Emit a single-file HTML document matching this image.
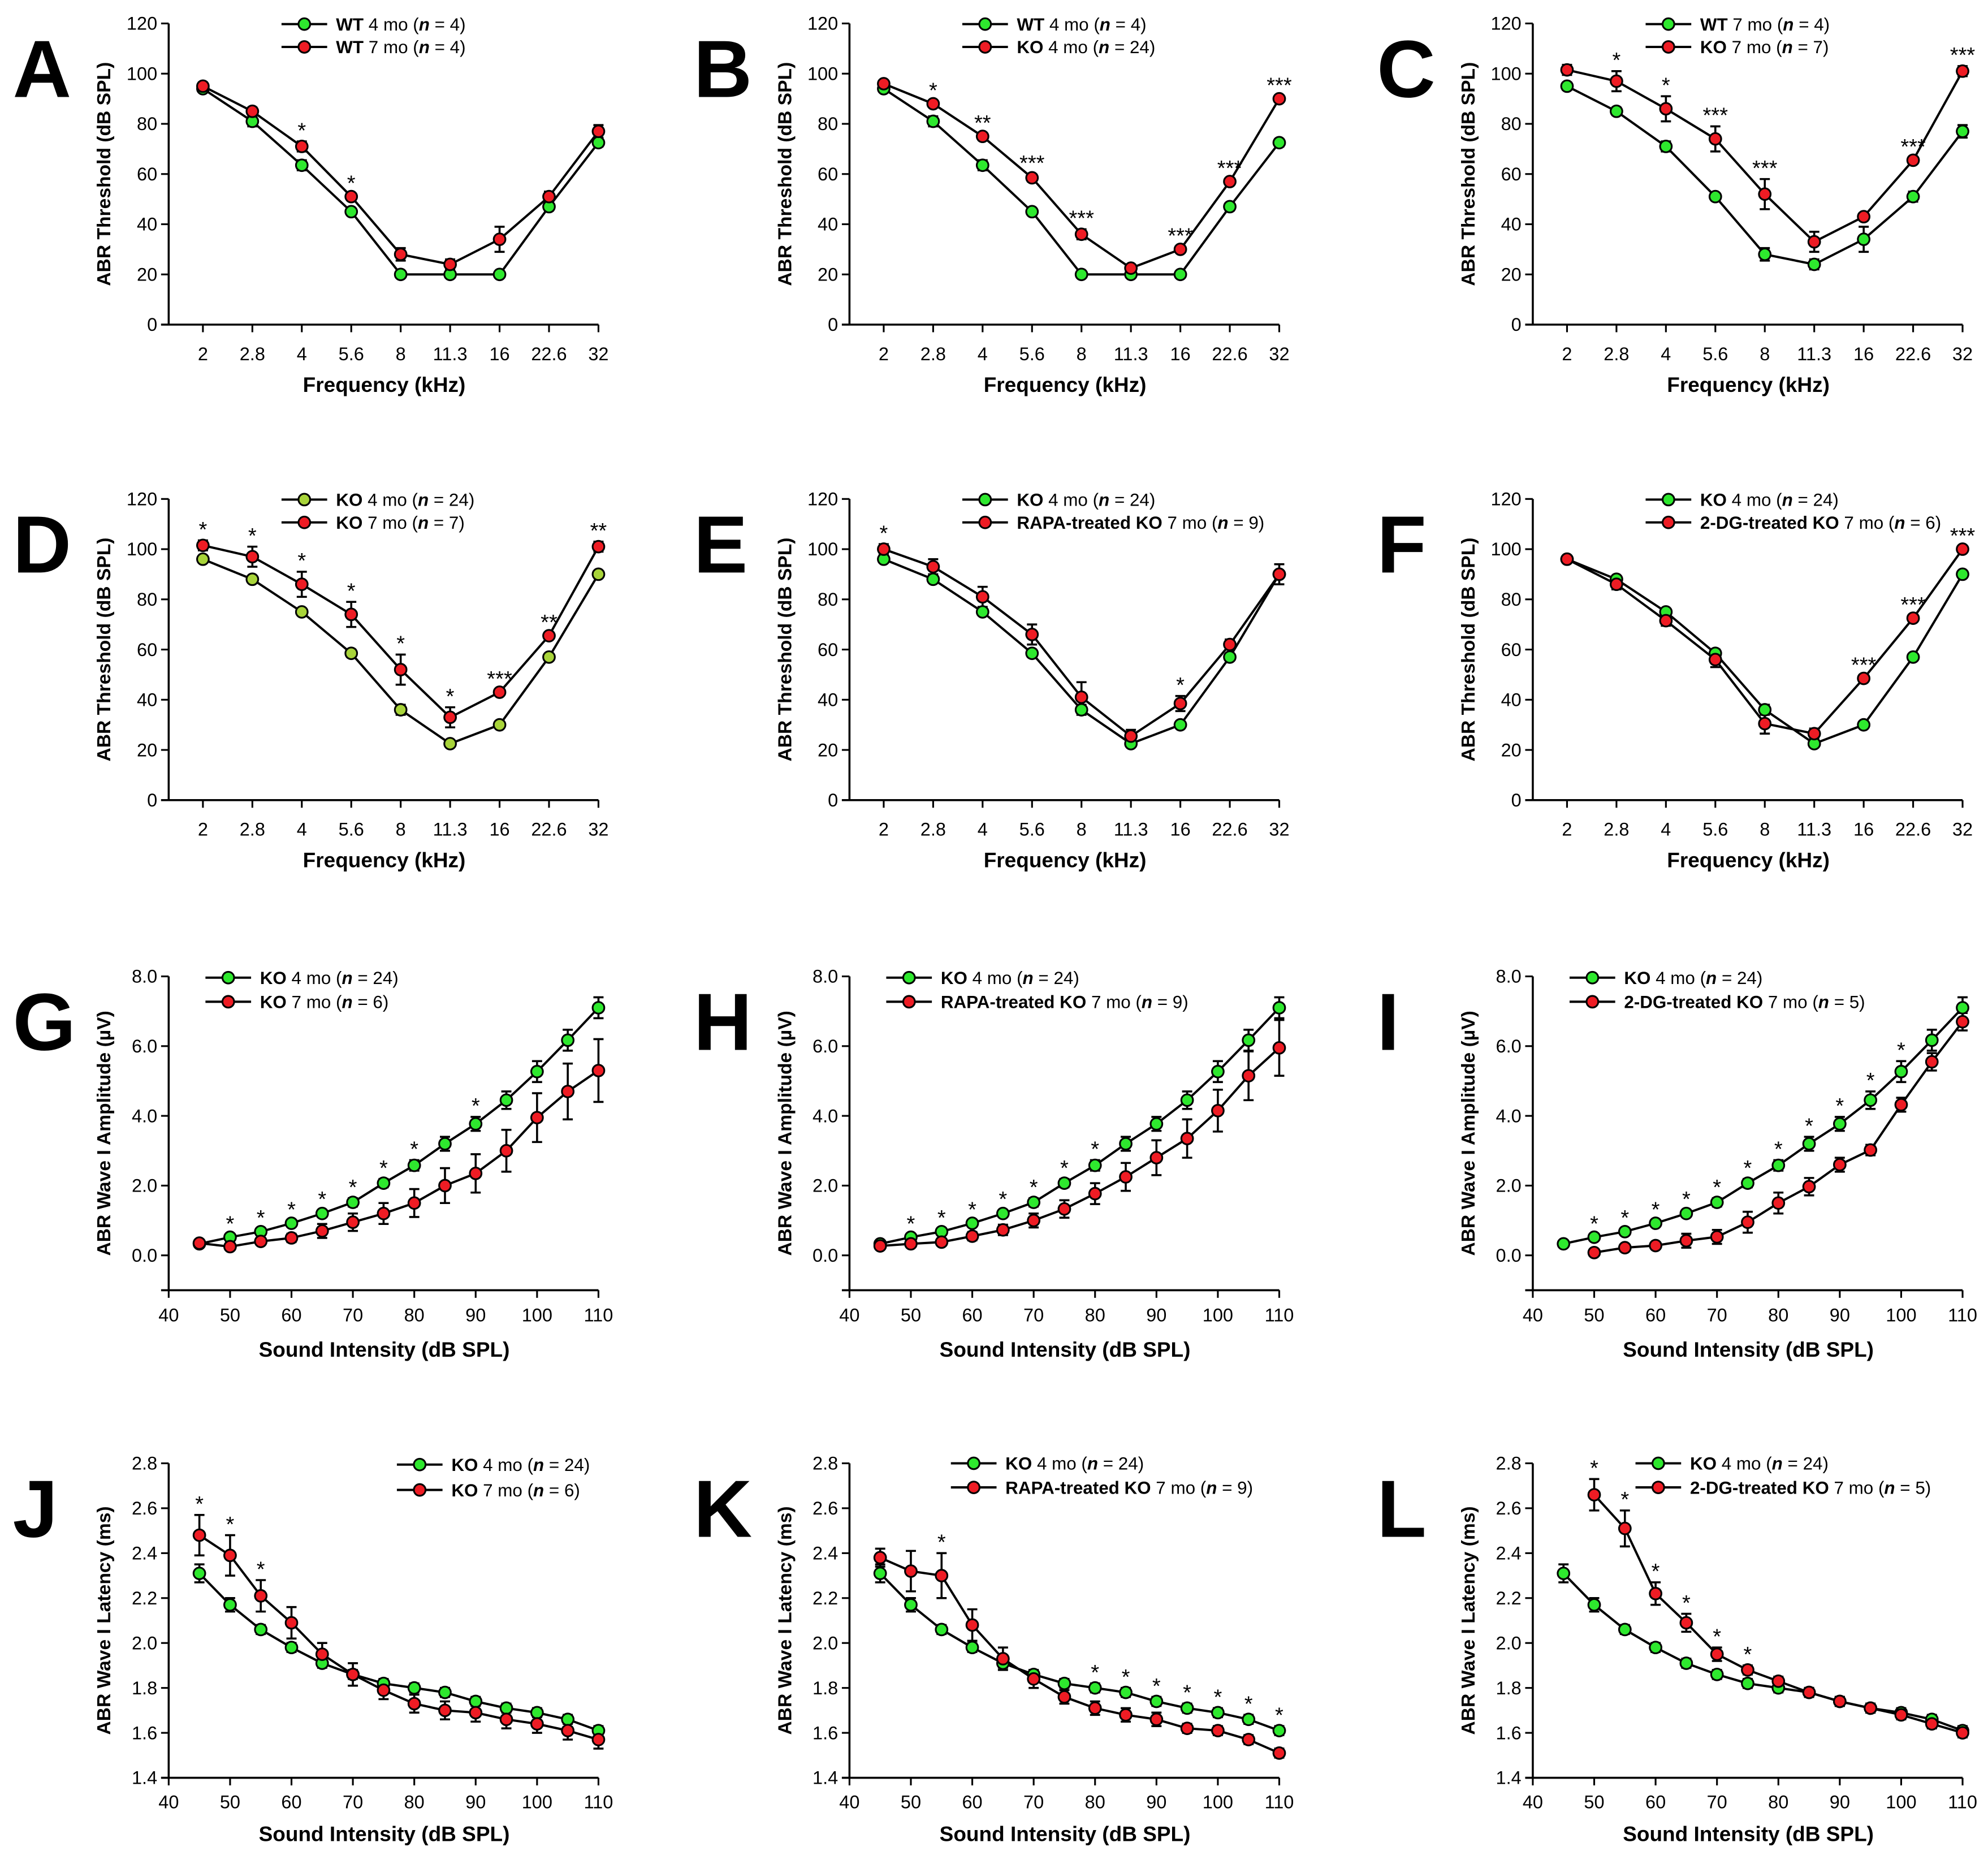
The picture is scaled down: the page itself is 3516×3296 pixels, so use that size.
<!DOCTYPE html>
<html><head><meta charset="utf-8"><title>ABR panels</title>
<style>html,body{margin:0;padding:0;background:#fff}svg{display:block}</style></head>
<body>
<svg id="fig" xmlns="http://www.w3.org/2000/svg" width="3516" height="3296" viewBox="0 0 1568 1470">
<rect x="0" y="0" width="1568" height="1470" fill="#fff"/>
</svg>
<script>
// ---------- data ----------
const freqLabels = ['2','2.8','4','5.6','8','11.3','16','22.6','32'];
const intensities = [45,50,55,60,65,70,75,80,85,90,95,100,105,110];
const thrTicks = [0,20,40,60,80,100,120];
const ampTicks = [0,2,4,6,8];
const latTicks = [1.4,1.6,1.8,2.0,2.2,2.4,2.6,2.8];
const intTicks = [40,50,60,70,80,90,100,110];

const wt4Thr = [94,81,63.5,45,20,20,20,47,72.5];
const wt4ThrErr = [1,2,2,1,1,1,1,1.5,1.5];
const wt7Thr = [95,85,71,51,28,24,34,51,77];
const wt7ThrErr = [1.5,1.5,2,1,2.5,2,5,2,2.5];
const ko4Thr = [96,88,75,58.5,36,22.5,30,57,90];
const ko4ThrErr = [1,1,1,1.5,2,1,1,1,1];
const ko7Thr = [101.5,97,86,74,52,33,43,65.5,101];
const ko7ThrErr = [2,4,5,5,6,4,1,1,2];
const rapaThr = [100,93,81,66,41,25.5,38.5,62,90];
const rapaThrErr = [2,3,4,4,6,2.5,3,2,4];
const dgThr = [96,86,71.5,56,30.5,26.5,48.5,72.5,100];
const dgThrErr = [1,2,2,3,4,2,1,1,1];

const ko4Amp = [0.33,0.52,0.68,0.92,1.2,1.52,2.07,2.58,3.2,3.77,4.45,5.27,6.17,7.1];
const ko4AmpErr = [0.05,0.07,0.08,0.08,0.1,0.12,0.12,0.15,0.2,0.2,0.25,0.3,0.3,0.3];
const ko7Amp = [0.35,0.25,0.4,0.5,0.7,0.95,1.2,1.5,2.0,2.35,3.0,3.95,4.7,5.3];
const ko7AmpErr = [0.05,0.1,0.1,0.12,0.2,0.25,0.3,0.4,0.5,0.55,0.6,0.7,0.8,0.9];
const rapaAmp = [0.27,0.33,0.38,0.55,0.73,1.0,1.33,1.77,2.25,2.8,3.35,4.15,5.15,5.95];
const rapaAmpErr = [0.05,0.08,0.1,0.12,0.15,0.2,0.25,0.3,0.4,0.5,0.55,0.6,0.7,0.8];
const dgAmp = [null,0.08,0.22,0.28,0.42,0.53,0.95,1.5,1.97,2.6,3.02,4.32,5.55,6.7];
const dgAmpErr = [null,0.05,0.05,0.08,0.2,0.2,0.3,0.3,0.25,0.2,0.15,0.2,0.25,0.25];

const ko4Lat = [2.31,2.17,2.06,1.98,1.91,1.86,1.82,1.80,1.78,1.74,1.71,1.69,1.66,1.61];
const ko4LatErr = [0.04,0.03,0.02,0.02,0.02,0.02,0.02,0.02,0.02,0.02,0.02,0.02,0.02,0.02];
const ko7Lat = [2.48,2.39,2.21,2.09,1.95,1.86,1.79,1.73,1.70,1.69,1.66,1.64,1.61,1.57];
const ko7LatErr = [0.09,0.09,0.07,0.07,0.05,0.05,0.04,0.04,0.04,0.04,0.04,0.04,0.04,0.04];
const rapaLat = [2.38,2.32,2.30,2.08,1.93,1.84,1.76,1.71,1.68,1.66,1.62,1.61,1.57,1.51];
const rapaLatErr = [0.04,0.09,0.1,0.07,0.05,0.04,0.03,0.03,0.03,0.03,0.02,0.02,0.02,0.02];
const dgLat = [null,2.66,2.51,2.22,2.09,1.95,1.88,1.83,1.78,1.74,1.71,1.68,1.64,1.60];
const dgLatErr = [null,0.07,0.08,0.05,0.04,0.03,0.02,0.02,0.02,0.02,0.02,0.02,0.02,0.02];

const starsA = ['','','*','*','','','','',''];
const starsB = ['','*','**','***','***','','***','***','***'];
const starsC = ['','*','*','***','***','','','***','***'];
const starsD = ['*','*','*','*','*','*','***','**','**'];
const starsE = ['*','','','','','','*','',''];
const starsF = ['','','','','','','***','***','***'];
const starsG = ['','*','*','*','*','*','*','*','','*','','','',''];
const starsH = ['','*','*','*','*','*','*','*','','','','','',''];
const starsI = ['','*','*','*','*','*','*','*','*','*','*','*','',''];
const starsJ = ['*','*','*','','','','','','','','','','',''];
const starsK = ['','','*','','','','','*','*','*','*','*','*','*'];
const starsL = ['','*','*','*','*','*','*','','','','','','',''];

// ---------- drawing ----------
const NS = 'http://www.w3.org/2000/svg';
const svg = document.getElementById('fig');
const GREEN = '#2ee82e', RED = '#ee1c24', YG = '#a8d43a';
const FN = '"Liberation Sans Narrow","Liberation Sans",Arial,sans-serif';
const FB = '"Liberation Sans",Arial,sans-serif';

function mk(tag, attrs, parent) {
  const e = document.createElementNS(NS, tag);
  for (const k in attrs) e.setAttribute(k, attrs[k]);
  (parent || svg).appendChild(e);
  return e;
}
function txt(s, x, y, size, anchor, weight, parent, family) {
  const t = mk('text', {x: x, y: y, 'font-size': size, 'text-anchor': anchor || 'middle',
    'font-weight': weight || 'normal', 'font-family': family || FN, fill: '#000'}, parent);
  t.textContent = s;
  return t;
}

const colX = [133, 670, 1209];
const PW = 339;
function rowGeom(r) {
  if (r === 0) return {top: 18.5, bot: 256, min: 0, max: 120, ticks: thrTicks, fmt: v => String(v), lab: 284, tit: 309, ttl: 'ABR Threshold (dB SPL)', xt: 'Frequency (kHz)'};
  if (r === 1) return {top: 393.5, bot: 631, min: 0, max: 120, ticks: thrTicks, fmt: v => String(v), lab: 659, tit: 684, ttl: 'ABR Threshold (dB SPL)', xt: 'Frequency (kHz)'};
  if (r === 2) return {top: 770, bot: 1017.5, min: -1, max: 8, ticks: ampTicks, fmt: v => v.toFixed(1), lab: 1042, tit: 1070, ttl: 'ABR Wave I Amplitude (\u00b5V)', xt: 'Sound Intensity (dB SPL)'};
  return {top: 1154, bot: 1402, min: 1.4, max: 2.8, ticks: latTicks, fmt: v => v.toFixed(1), lab: 1426, tit: 1452, ttl: 'ABR Wave I Latency (ms)', xt: 'Sound Intensity (dB SPL)'};
}

const panels = [
  {L:'A', r:0, c:0, cat:true, s:[[wt4Thr,wt4ThrErr,GREEN,'WT',' 4 mo (','4'],[wt7Thr,wt7ThrErr,RED,'WT',' 7 mo (','4']], stars:starsA, lg:[89,125,19,37]},
  {L:'B', r:0, c:1, cat:true, s:[[wt4Thr,wt4ThrErr,GREEN,'WT',' 4 mo (','4'],[ko4Thr,ko4ThrErr,RED,'KO',' 4 mo (','24']], stars:starsB, lg:[89,125,19,37]},
  {L:'C', r:0, c:2, cat:true, s:[[wt7Thr,wt7ThrErr,GREEN,'WT',' 7 mo (','4'],[ko7Thr,ko7ThrErr,RED,'KO',' 7 mo (','7']], stars:starsC, lg:[89,125,19,37]},
  {L:'D', r:1, c:0, cat:true, s:[[ko4Thr,ko4ThrErr,YG,'KO',' 4 mo (','24'],[ko7Thr,ko7ThrErr,RED,'KO',' 7 mo (','7']], stars:starsD, lg:[89,125,394,412]},
  {L:'E', r:1, c:1, cat:true, s:[[ko4Thr,ko4ThrErr,GREEN,'KO',' 4 mo (','24'],[rapaThr,rapaThrErr,RED,'RAPA-treated KO',' 7 mo (','9']], stars:starsE, lg:[89,125,394,412]},
  {L:'F', r:1, c:2, cat:true, s:[[ko4Thr,ko4ThrErr,GREEN,'KO',' 4 mo (','24'],[dgThr,dgThrErr,RED,'2-DG-treated KO',' 7 mo (','6']], stars:starsF, lg:[89,125,394,412]},
  {L:'G', r:2, c:0, cat:false, s:[[ko4Amp,ko4AmpErr,GREEN,'KO',' 4 mo (','24'],[ko7Amp,ko7AmpErr,RED,'KO',' 7 mo (','6']], stars:starsG, lg:[29,65,771,790]},
  {L:'H', r:2, c:1, cat:false, s:[[ko4Amp,ko4AmpErr,GREEN,'KO',' 4 mo (','24'],[rapaAmp,rapaAmpErr,RED,'RAPA-treated KO',' 7 mo (','9']], stars:starsH, lg:[29,65,771,790]},
  {L:'I', r:2, c:2, cat:false, s:[[ko4Amp,ko4AmpErr,GREEN,'KO',' 4 mo (','24'],[dgAmp,dgAmpErr,RED,'2-DG-treated KO',' 7 mo (','5']], stars:starsI, lg:[29,65,771,790]},
  {L:'J', r:3, c:0, cat:false, s:[[ko4Lat,ko4LatErr,GREEN,'KO',' 4 mo (','24'],[ko7Lat,ko7LatErr,RED,'KO',' 7 mo (','6']], stars:starsJ, lg:[180,216,1155,1175]},
  {L:'K', r:3, c:1, cat:false, s:[[ko4Lat,ko4LatErr,GREEN,'KO',' 4 mo (','24'],[rapaLat,rapaLatErr,RED,'RAPA-treated KO',' 7 mo (','9']], stars:starsK, lg:[80,116,1154,1173]},
  {L:'L', r:3, c:2, cat:false, s:[[ko4Lat,ko4LatErr,GREEN,'KO',' 4 mo (','24'],[dgLat,dgLatErr,RED,'2-DG-treated KO',' 7 mo (','5']], stars:starsL, lg:[81,117,1154,1173]}
];

panels.forEach(p => {
  const ox = colX[p.c];
  const g = rowGeom(p.r);
  const right = ox + PW;
  const grp = mk('g', {});
  
  
  const yS = v => g.bot - (v - g.min) / (g.max - g.min) * (g.bot - g.top);
  const xS = p.cat ? (i => ox + 27 + i * 39) : (v => ox + (v - 40) / 70 * PW);
  const xi = p.cat ? (i => xS(i)) : (i => xS(intensities[i]));

  const lt = txt(p.L, ox - 123, g.top + 58, 64, 'start', 'bold', grp, FB);
  
  

  const ya = mk('line', {x1: ox, y1: g.top, x2: ox, y2: g.bot, stroke: '#000', 'stroke-width': 1.6}, grp);
  
  
  const xa = mk('line', {x1: ox - 6, y1: g.bot, x2: right, y2: g.bot, stroke: '#000', 'stroke-width': 1.6}, grp);
  
  
  g.ticks.forEach(v => {
    const y = yS(v);
    mk('line', {x1: ox - 6, y1: y, x2: ox, y2: y, stroke: '#000', 'stroke-width': 1.4}, grp);
    const t = txt(g.fmt(v), ox - 9, y + 5, 14.5, 'end', 'normal', grp);
    
    
  });
  if (p.cat) {
    freqLabels.forEach((s, i) => {
      const x = xS(i);
      mk('line', {x1: x, y1: g.bot, x2: x, y2: g.bot + 6, stroke: '#000', 'stroke-width': 1.4}, grp);
      const t = txt(s, x, g.lab, 14.5, 'middle', 'normal', grp);
      
      
    });
  } else {
    intTicks.forEach(v => {
      const x = xS(v);
      mk('line', {x1: x, y1: g.bot, x2: x, y2: g.bot + 6, stroke: '#000', 'stroke-width': 1.4}, grp);
      const t = txt(String(v), x, g.lab, 14.5, 'middle', 'normal', grp);
      
      
    });
  }
  const xt = txt(g.xt, ox + 170, g.tit, 16.5, 'middle', 'bold', grp);
  
  
  const cy = (g.top + g.bot) / 2;
  const yt = txt(g.ttl, 0, 0, 15, 'middle', 'bold', grp, FB);
  yt.setAttribute('transform', 'translate(' + (ox - 46) + ',' + cy + ') rotate(-90)');
  
  

  p.s.forEach((s, si) => {
    const vals = s[0];
    let d = '';
    vals.forEach((v, i) => { if (v === null) return; d += (d ? 'L' : 'M') + xi(i).toFixed(2) + ' ' + yS(v).toFixed(2); });
    const ln = mk('path', {d: d, fill: 'none', stroke: '#000', 'stroke-width': 1.8}, grp);
    
    
  });
  p.s.forEach((s, si) => {
    const vals = s[0], errs = s[1];
    vals.forEach((v, i) => {
      if (v === null) return;
      const x = xi(i), e = errs[i];
      const y1 = yS(v + e), y2 = yS(v - e);
      const eb = mk('path', {d: 'M' + x + ' ' + y1 + 'V' + y2 + 'M' + (x - 4) + ' ' + y1 + 'H' + (x + 4) + 'M' + (x - 4) + ' ' + y2 + 'H' + (x + 4), stroke: '#000', 'stroke-width': 1.6, fill: 'none'}, grp);
      
      
    });
  });
  p.s.forEach((s, si) => {
    s[0].forEach((v, i) => {
      if (v === null) return;
      const m = mk('circle', {cx: xi(i), cy: yS(v), r: 4.6, fill: s[2], stroke: '#000', 'stroke-width': 1.4}, grp);
      
      
    });
  });

  p.stars.forEach((st, i) => {
    if (!st) return;
    let top = Infinity;
    p.s.forEach(s => { const v = s[0][i]; if (v !== null) top = Math.min(top, yS(v + s[1][i])); });
    const t = txt(st, xi(i), top - 3, 17, 'middle', 'normal', grp, FB);
    
    
  });

  const [lx1, lx2, ly1, ly2] = p.lg;
  [ly1, ly2].forEach((ly, k) => {
    const s = p.s[k];
    const lg = mk('g', {}, grp);
    
    
    mk('line', {x1: ox + lx1, y1: ly, x2: ox + lx2, y2: ly, stroke: '#000', 'stroke-width': 1.8}, lg);
    mk('circle', {cx: ox + (lx1 + lx2) / 2, cy: ly, r: 4.6, fill: s[2], stroke: '#000', 'stroke-width': 1.4}, lg);
    const t = mk('text', {x: ox + lx2 + 7, y: ly + 5, 'font-size': 14, 'font-family': FN, fill: '#000'}, lg);
    const a = mk('tspan', {'font-weight': 'bold'}, t); a.textContent = s[3];
    const b = mk('tspan', {}, t); b.textContent = s[4];
    const c = mk('tspan', {'font-weight': 'bold', 'font-style': 'italic'}, t); c.textContent = 'n';
    const d = mk('tspan', {}, t); d.textContent = ' = ' + s[5] + ')';
  });
});
</script>
</body></html>
